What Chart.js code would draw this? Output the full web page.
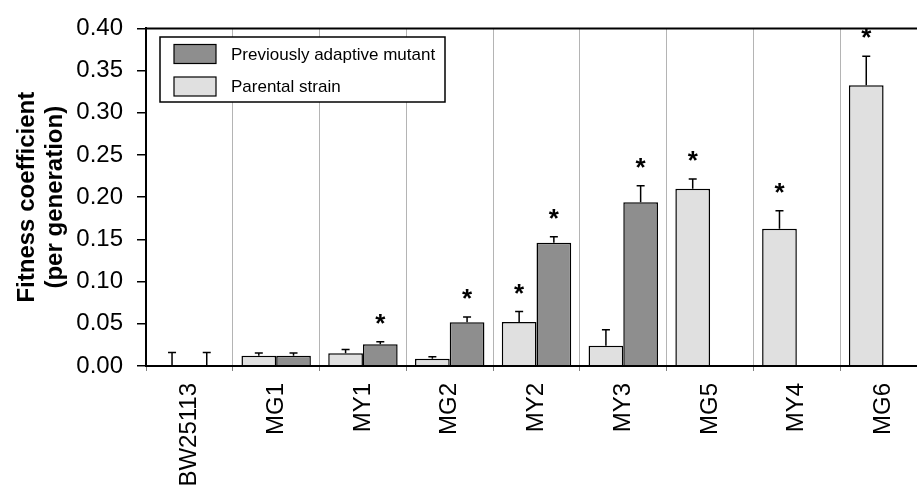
<!DOCTYPE html>
<html>
<head>
<meta charset="utf-8">
<script src="https://cdn.jsdelivr.net/npm/chart.js@4.4.1/dist/chart.umd.min.js"></script>
<style>
  html, body { margin: 0; padding: 0; background: #fff; overflow: hidden; }
  #wrap { width: 917px; height: 489px; overflow: hidden; }
  canvas { display: block; }
</style>
</head>
<body>
<div id="wrap"><canvas id="fitnessChart" width="930" height="489"></canvas></div>
<script>
// Strains on the x axis
const strains = ["BW25113", "MG1", "MY1", "MG2", "MY2", "MY3", "MG5", "MY4", "MG6"];

// Parental strain: fitness coefficient, upper error, significance
const parentalValues = [0.0, 0.012, 0.015, 0.0085, 0.052, 0.024, 0.21, 0.1625, 0.3325];
const parentalErrors = [0.016, 0.0035, 0.0045, 0.0025, 0.0125, 0.019, 0.0115, 0.0215, 0.0345];
const parentalStars = [false, false, false, false, true, false, true, true, true];

// Previously adaptive mutant (nothing for MG5, MY4, MG6)
const mutantValues = [0.0, 0.012, 0.0257, 0.0517, 0.146, 0.194, null, null, null];
const mutantErrors = [0.016, 0.0035, 0.003, 0.0065, 0.007, 0.0195, null, null, null];
const mutantStars = [false, false, true, true, true, true, false, false, false];

// Y axis ticks
const yTicks = [0, 0.05, 0.1, 0.15, 0.2, 0.25, 0.3, 0.35, 0.4];

const COLORS = {
  parental: "#e0e0e0",
  mutant: "#8e8e8e",
  grid: "#b4b4b4",
};

const FONT = "'Liberation Sans', Arial, sans-serif";

// Upward error bars plus significance asterisks
const errorBarPlugin = {
  id: "errorBars",
  afterDatasetsDraw(chart) {
    const ctx = chart.ctx;
    const yScale = chart.scales.y;
    ctx.save();
    chart.data.datasets.forEach((ds, i) => {
      const meta = chart.getDatasetMeta(i);
      meta.data.forEach((bar, j) => {
        const v = ds.data[j];
        const err = ds.errors[j];
        if (v === null || err === null) return;
        const x = bar.x;
        const y0 = yScale.getPixelForValue(v);
        const y1 = yScale.getPixelForValue(v + err);
        ctx.strokeStyle = "#000";
        ctx.lineWidth = 1.5;
        ctx.beginPath();
        ctx.moveTo(x, y0);
        ctx.lineTo(x, y1);
        ctx.moveTo(x - 4, y1);
        ctx.lineTo(x + 4, y1);
        ctx.stroke();
        if (ds.stars[j]) {
          ctx.fillStyle = "#000";
          ctx.font = "bold 26px " + FONT;
          ctx.textAlign = "center";
          ctx.textBaseline = "alphabetic";
          ctx.fillText("*", x, y1 - 10);
        }
      });
    });
    ctx.restore();
  },
};

// Top frame line and the boxed legend inside the plot
const framePlugin = {
  id: "frame",
  afterDraw(chart) {
    const ctx = chart.ctx;
    const area = chart.chartArea;
    ctx.save();
    ctx.strokeStyle = "#000";
    ctx.lineWidth = 2;
    ctx.beginPath();
    ctx.moveTo(area.left - 1, area.top);
    ctx.lineTo(area.right, area.top);
    ctx.stroke();

    // legend box
    ctx.fillStyle = "#fff";
    ctx.fillRect(160, 37, 285, 65);
    ctx.lineWidth = 1.5;
    ctx.strokeRect(160, 37, 285, 65);
    const items = [chart.data.datasets[1], chart.data.datasets[0]];
    items.forEach((ds, k) => {
      const cy = 54 + k * 32.5;
      ctx.fillStyle = ds.backgroundColor;
      ctx.fillRect(174, cy - 9.5, 42, 19);
      ctx.lineWidth = 1.2;
      ctx.strokeRect(174, cy - 9.5, 42, 19);
      ctx.fillStyle = "#000";
      ctx.font = "17px " + FONT;
      ctx.textAlign = "left";
      ctx.textBaseline = "middle";
      ctx.fillText(ds.label, 231, cy + 1);
    });
    ctx.restore();
  },
};

new Chart(document.getElementById("fitnessChart"), {
  type: "bar",
  data: {
    labels: strains,
    datasets: [
      {
        label: "Parental strain",
        data: parentalValues,
        errors: parentalErrors,
        stars: parentalStars,
        backgroundColor: COLORS.parental,
        borderColor: "#000",
        borderWidth: 1.5,
        barPercentage: 1.0,
        categoryPercentage: 0.8,
      },
      {
        label: "Previously adaptive mutant",
        data: mutantValues,
        errors: mutantErrors,
        stars: mutantStars,
        backgroundColor: COLORS.mutant,
        borderColor: "#000",
        borderWidth: 1.5,
        barPercentage: 1.0,
        categoryPercentage: 0.8,
      },
    ],
  },
  options: {
    responsive: false,
    animation: false,
    layout: { padding: { top: 23, right: 3, left: 0, bottom: 0 } },
    plugins: {
      legend: { display: false },
      tooltip: { enabled: false },
    },
    scales: {
      x: {
        offset: true,
        grid: {
          offset: true,
          color: COLORS.grid,
          lineWidth: 1,
          tickLength: 5,
          tickColor: "#808080",
        },
        border: { display: true, color: "#000", width: 2, z: 1 },
        ticks: {
          color: "#000",
          font: { family: FONT, size: 24 },
          maxRotation: 90,
          minRotation: 90,
          padding: 12,
          autoSkip: false,
        },
        afterFit(scale) {
          scale.height = 123;
        },
      },
      y: {
        min: 0,
        max: 0.4,
        afterBuildTicks(scale) {
          scale.ticks = yTicks.map((v) => ({ value: v }));
        },
        grid: {
          drawOnChartArea: false,
          tickLength: 9,
          tickColor: "#000",
          lineWidth: 1.5,
        },
        border: { display: true, color: "#000", width: 2, z: 1 },
        ticks: {
          color: "#000",
          font: { family: FONT, size: 24 },
          padding: 14,
          callback: (v) => Number(v).toFixed(2),
        },
        title: {
          display: true,
          text: ["Fitness coefficient", "(per generation)"],
          color: "#000",
          font: { family: FONT, size: 24, weight: "bold", lineHeight: 1.2 },
          padding: { top: 12.6, bottom: 0 },
        },
        afterFit(scale) {
          scale.width = 146;
        },
      },
    },
  },
  plugins: [errorBarPlugin, framePlugin],
});
</script>
</body>
</html>
